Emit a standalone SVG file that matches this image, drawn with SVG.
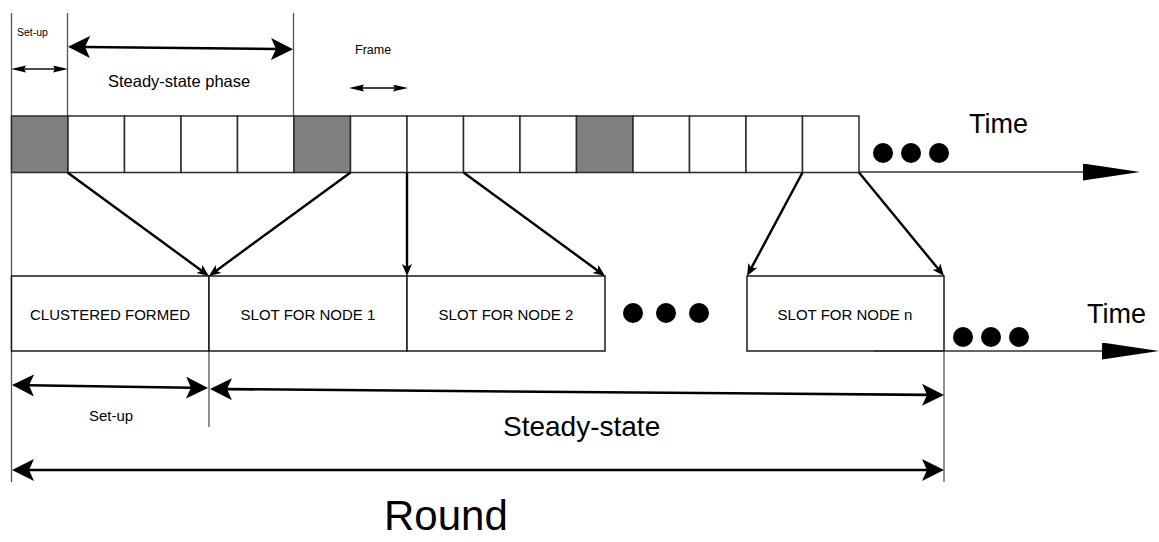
<svg xmlns="http://www.w3.org/2000/svg" width="1159" height="542" viewBox="0 0 1159 542">
  <style>
    text { font-family: "Liberation Sans", Arial, sans-serif; fill: #000; }
    .cell { fill: #fff; stroke: #2b2b2b; stroke-width: 1.5; }
    .ch { fill: #808080; stroke: #2b2b2b; stroke-width: 1.5; }
    .box { fill: #fff; stroke: #1a1a1a; stroke-width: 1.5; }
    .guide { stroke: #555; stroke-width: 1.3; fill: none; }
    .dim { stroke: #000; stroke-width: 2.6; fill: none; }
    .dimthin { stroke: #000; stroke-width: 1.4; fill: none; }
    .conn { stroke: #000; stroke-width: 2.4; fill: none; marker-end: url(#hc); }
    .axis { stroke: #333; stroke-width: 1.5; fill: none; marker-end: url(#ht); }
    .lbl { font-size: 15px; text-anchor: middle; }
    .dot { fill: #000; }
  </style>
  <defs>
    <marker id="hb" markerUnits="userSpaceOnUse" markerWidth="24" markerHeight="24" refX="5" refY="11" orient="auto-start-reverse">
      <path d="M0,0 L22,11 L0,22 L5,11 z" fill="#000"/>
    </marker>
    <marker id="hs" markerUnits="userSpaceOnUse" markerWidth="16" markerHeight="8" refX="2" refY="3.5" orient="auto-start-reverse">
      <path d="M0,0 L15,3.5 L0,7 L2,3.5 z" fill="#000"/>
    </marker>
    <marker id="hc" markerUnits="userSpaceOnUse" markerWidth="14" markerHeight="12" refX="3" refY="5" orient="auto">
      <path d="M0,0 L12,5 L0,10 L3,5 z" fill="#000"/>
    </marker>
    <marker id="ht" markerUnits="userSpaceOnUse" markerWidth="60" markerHeight="18" refX="0" refY="8.5" orient="auto">
      <path d="M0,0 L57,8.5 L0,17 z" fill="#000"/>
    </marker>
  </defs>

  <!-- guide lines -->
  <g id="guides">
    <line class="guide" x1="11.5" y1="13" x2="11.5" y2="482"/>
    <line class="guide" x1="67.5" y1="13" x2="67.5" y2="116"/>
    <line class="guide" x1="293.5" y1="13" x2="293.5" y2="116"/>
    <line class="guide" x1="209" y1="351" x2="209" y2="427"/>
    <line class="guide" x1="944" y1="351" x2="944" y2="482"/>
  </g>

  <!-- frame timeline -->
  <g id="frames">
    <rect class="ch" x="11.5" y="116" width="56.5" height="56.5"/>
    <rect class="cell" x="68" y="116" width="56.5" height="56.5"/>
    <rect class="cell" x="124.5" y="116" width="56.5" height="56.5"/>
    <rect class="cell" x="181" y="116" width="56.5" height="56.5"/>
    <rect class="cell" x="237.5" y="116" width="56.5" height="56.5"/>
    <rect class="ch" x="294" y="116" width="56.5" height="56.5"/>
    <rect class="cell" x="350.5" y="116" width="56.5" height="56.5"/>
    <rect class="cell" x="407" y="116" width="56.5" height="56.5"/>
    <rect class="cell" x="463.5" y="116" width="56.5" height="56.5"/>
    <rect class="cell" x="520" y="116" width="56.5" height="56.5"/>
    <rect class="ch" x="576.5" y="116" width="56.5" height="56.5"/>
    <rect class="cell" x="633" y="116" width="56.5" height="56.5"/>
    <rect class="cell" x="689.5" y="116" width="56.5" height="56.5"/>
    <rect class="cell" x="746" y="116" width="56.5" height="56.5"/>
    <rect class="cell" x="802.5" y="116" width="56.5" height="56.5"/>
    <circle class="dot" cx="883" cy="153" r="10"/>
    <circle class="dot" cx="911" cy="153" r="10"/>
    <circle class="dot" cx="939" cy="153" r="10"/>
    <text x="969" y="133" font-size="27">Time</text>
  </g>

  <!-- slot boxes -->
  <g id="slot-clustered">
    <rect class="box" x="11.5" y="276" width="197.5" height="75"/>
    <text class="lbl" x="110" y="320">CLUSTERED FORMED</text>
  </g>
  <g id="slot-node1">
    <rect class="box" x="209" y="276" width="198" height="75"/>
    <text class="lbl" x="308" y="320">SLOT FOR NODE 1</text>
  </g>
  <g id="slot-node2">
    <rect class="box" x="407" y="276" width="198" height="75"/>
    <text class="lbl" x="506" y="320">SLOT FOR NODE 2</text>
  </g>
  <g id="slot-gap">
    <circle class="dot" cx="633" cy="313" r="10"/>
    <circle class="dot" cx="666" cy="313" r="10"/>
    <circle class="dot" cx="699" cy="313" r="10"/>
  </g>
  <g id="slot-noden">
    <rect class="box" x="747" y="276" width="197" height="75"/>
    <text class="lbl" x="845" y="320">SLOT FOR NODE n</text>
  </g>
  <g id="slot-tail">
    <circle class="dot" cx="963" cy="337" r="10"/>
    <circle class="dot" cx="991" cy="337" r="10"/>
    <circle class="dot" cx="1019" cy="337" r="10"/>
    <text x="1087" y="323" font-size="27">Time</text>
  </g>

  <!-- connectors and dimension arrows -->
  <g id="connectors">
    <line class="axis" x1="859" y1="172" x2="1083" y2="172"/>
    <line class="axis" x1="874" y1="351" x2="1102" y2="351"/>

    <line class="conn" x1="67.5" y1="172.5" x2="201.7" y2="270.7"/>
    <line class="conn" x1="350.5" y1="172.5" x2="216.2" y2="270.7"/>
    <line class="conn" x1="407" y1="172.5" x2="407" y2="267" stroke-width="3"/>
    <line class="conn" x1="463.5" y1="172.5" x2="597.8" y2="270.7"/>
    <line class="conn" x1="802.5" y1="172.5" x2="751.3" y2="268.1"/>
    <line class="conn" x1="859" y1="172.5" x2="938.3" y2="269"/>

    <line class="dimthin" x1="24" y1="69" x2="55" y2="69" marker-start="url(#hs)" marker-end="url(#hs)"/>
    <line class="dimthin" x1="362" y1="88" x2="395" y2="88" marker-start="url(#hs)" marker-end="url(#hs)"/>
    <line class="dim" x1="85" y1="47" x2="276" y2="49" marker-start="url(#hb)" marker-end="url(#hb)"/>
    <line class="dim" x1="29" y1="385.3" x2="191" y2="387.7" marker-start="url(#hb)" marker-end="url(#hb)"/>
    <line class="dim" x1="227" y1="389.1" x2="927" y2="394.9" marker-start="url(#hb)" marker-end="url(#hb)"/>
    <line class="dim" x1="29" y1="470" x2="927" y2="470" stroke-width="3.6" marker-start="url(#hb)" marker-end="url(#hb)"/>
  </g>

  <!-- phase labels -->
  <g id="labels">
    <text x="17" y="36" font-size="10.5">Set-up</text>
    <text x="108" y="87" font-size="16.5">Steady-state phase</text>
    <text x="355" y="54" font-size="12.5">Frame</text>
    <text x="111" y="421" font-size="15" text-anchor="middle">Set-up</text>
    <text x="503" y="436" font-size="28">Steady-state</text>
    <text x="384" y="530" font-size="42">Round</text>
  </g>
</svg>
